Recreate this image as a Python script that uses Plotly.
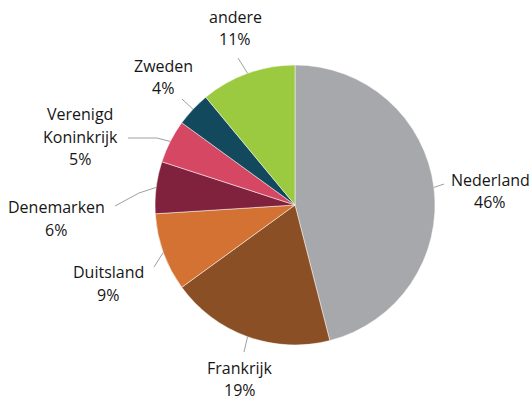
import math
import plotly.graph_objects as go

# ---- data ----
countries = ["Nederland", "Frankrijk", "Duitsland", "Denemarken",
             "Verenigd Koninkrijk", "Zweden", "andere"]
shares = [46, 19, 9, 6, 5, 4, 11]
colors = ["#a7a8ab", "#8a4f24", "#d37232", "#80213d", "#d64763", "#12495c", "#9bc93f"]

# ---- layout constants (pixels) ----
W, H = 532, 400
CX, CY, R = 295, 205, 140
LINE_PITCH = 22.5
# label block centres and leader-line bend points (pixels)
label_pos = [(490, 191), (240, 379), (108, 283.5), (56, 218.5), (80, 136.5), (163, 77), (235, 28)]
label_lines = [["Nederland"], ["Frankrijk"], ["Duitsland"], ["Denemarken"],
               ["Verenigd", "Koninkrijk"], ["Zweden"], ["andere"]]
leader_pts = [
    [(444, 184)],
    [(244, 352)],
    [(154, 267)],
    [(139, 193), (115, 206)],
    [(157, 138), (128, 138)],
    [(182, 99)],
    [(238, 58)],
]

def px(x):
    return x / W

def py(y):
    return 1 - y / H

fig = go.Figure(go.Pie(
    labels=countries,
    values=shares,
    sort=False,
    direction="clockwise",
    rotation=0,
    marker=dict(colors=colors, line=dict(color="white", width=0.5)),
    textinfo="none",
    hoverinfo="label+percent",
    domain=dict(x=[px(CX - R), px(CX + R)], y=[py(CY + R), py(CY - R)]),
    showlegend=False,
))

total = sum(shares)
cum = 0
shapes = []
annotations = []
for i, v in enumerate(shares):
    mid = (cum + v / 2) / total * 2 * math.pi
    cum += v
    ex = CX + R * math.sin(mid)
    ey = CY - R * math.cos(mid)
    pts = [(ex, ey)] + leader_pts[i]
    path = "M " + " L ".join(f"{px(x):.5f},{py(y):.5f}" for x, y in pts)
    shapes.append(dict(type="path", path=path, xref="paper", yref="paper",
                       line=dict(color="#a0a0a0", width=1)))
    lines = label_lines[i] + [f"{round(v / total * 100)}%"]
    lx, ly = label_pos[i]
    y0 = ly - (len(lines) - 1) * LINE_PITCH / 2
    for j, t in enumerate(lines):
        annotations.append(dict(
            x=px(lx), y=py(y0 + j * LINE_PITCH), xref="paper", yref="paper",
            text=t, showarrow=False, xanchor="center", yanchor="middle",
            font=dict(family="Open Sans", size=16, color="#161616"),
        ))

fig.update_layout(
    width=W, height=H,
    margin=dict(l=0, r=0, t=0, b=0),
    paper_bgcolor="white",
    plot_bgcolor="white",
    shapes=shapes,
    annotations=annotations,
)

fig.write_html("out.html", config={"displayModeBar": False},
               post_script="document.body.style.margin='0';")
